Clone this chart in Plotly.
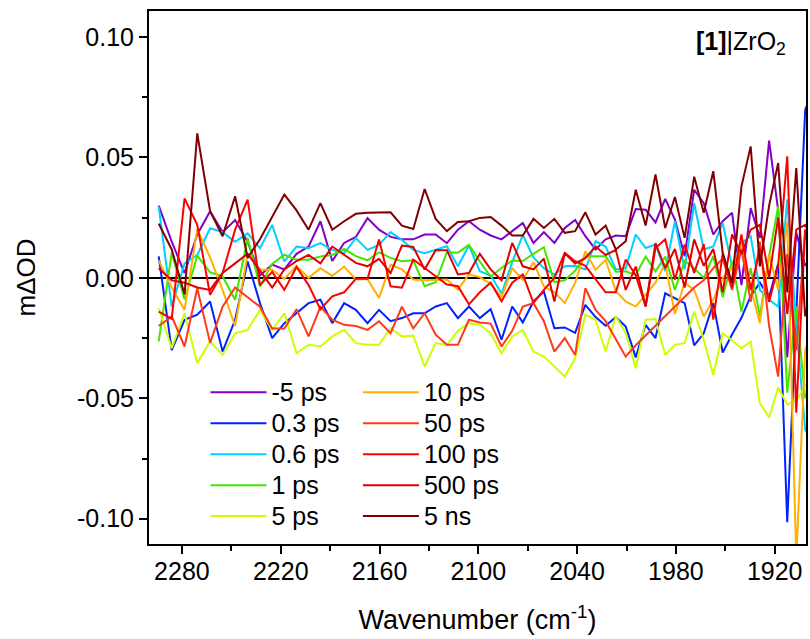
import plotly.graph_objects as go

wavenumber = [2294.1, 2286.2, 2278.4, 2270.7, 2262.9, 2255.3, 2247.7, 2240.1, 2232.6, 2225.2,
              2217.8, 2210.4, 2203.1, 2195.9, 2188.7, 2181.5, 2174.4, 2167.3, 2160.3, 2153.3,
              2146.4, 2139.5, 2132.6, 2125.9, 2119.1, 2112.4, 2105.7, 2099.1, 2092.5, 2085.9,
              2079.4, 2073.0, 2066.5, 2060.2, 2053.8, 2047.5, 2041.2, 2035.0, 2028.8, 2022.7,
              2016.5, 2010.5, 2004.4, 1998.4, 1992.4, 1986.5, 1980.6, 1974.7, 1968.9, 1963.1,
              1957.3, 1951.6, 1945.9, 1940.2, 1934.6, 1929.0, 1923.4, 1917.9, 1912.4, 1906.9,
              1901.5, 1896.1]

m5ps = [0.030, 0.015, 0.002, 0.018, 0.0277, 0.019, 0.024, 0.015, 0.001, 0.0055,
        0.0035, 0.010, 0.013, 0.0235, 0.007, 0.0145, 0.017, 0.0248, 0.020, 0.017,
        0.016, 0.016, 0.018, 0.018, 0.0144, 0.020, 0.0235, 0.020, 0.0176, 0.016,
        0.0194, 0.0228, 0.0145, 0.019, 0.0145, 0.0207, 0.024, 0.0173, 0.0118, 0.016,
        0.0176, 0.0173, 0.0286, 0.0283, 0.023, 0.0328, 0.0242, 0.009, 0.0366, 0.031,
        0.018, 0.0235, 0.027, -0.003, 0.029, 0.0166, 0.057, 0.028, -0.033, 0.0187,
        0.005, 0.010]

p03ps = [0.0089, -0.030, -0.0174, -0.0153, -0.0098, -0.0306, -0.0174, 0.0068, -0.0105, -0.025,
         -0.0188, -0.0147, -0.0105, -0.0091, -0.0188, -0.0105, -0.0133, -0.0188, -0.0133, -0.018,
         -0.0167, -0.0147, -0.0147, -0.0119, -0.0105, -0.0167, -0.0119, -0.0167, -0.013, -0.0257,
         -0.0119, -0.0185, -0.0098, -0.0057, -0.0209, -0.0206, -0.0228, -0.0112, -0.0163, -0.0199,
         -0.0163, -0.0202, -0.033, -0.0195, -0.025, -0.0064, -0.0084, -0.0105, -0.028, -0.023,
         -0.0105, -0.031, -0.0235, -0.0166, -0.0076, -0.002, -0.008, 0.006, -0.1015, -0.015,
         0.0697, 0.080]

p06ps = [0.0296, -0.0119, 0.006, 0.0095, 0.0206, 0.019, 0.015, 0.0185, 0.0123, 0.022,
         0.0068, 0.013, 0.0123, 0.0144, 0.0116, 0.0102, 0.0165, 0.0116, 0.0137, 0.019,
         0.0158, 0.0116, 0.0102, 0.0116, 0.0131, 0.0048, 0.0134, 0.0028, 0.001, -0.0065,
         0.0065, 0.0178, 0.0085, 0.004, 0.0014, 0.0048, 0.005, 0.0035, 0.0152, 0.013,
         0.0035, 0.004, 0.018, 0.0124, 0.0138, 0.0028, 0.0235, 0.0035, 0.031, 0.0118,
         0.013, 0.0228, 0.0048, 0.0145, 0.0173, -0.005, -0.009, -0.012, 0.0325, -0.020,
         -0.063, -0.070]

p1ps = [-0.0264, 0.0105, -0.009, 0.0092, 0.0023, 0.0006, -0.0091, 0.0165, -0.0036, 0.0058,
        0.0096, 0.0075, 0.0075, 0.0089, 0.0095, 0.012, 0.009, 0.0073, 0.0106, 0.0083,
        0.0069, 0.0073, -0.0035, -0.0018, 0.0106, 0.0104, 0.0138, 0.0068, 0.0005, 0.0041,
        0.0072, 0.007, 0.010, 0.0127, -0.0018, -0.001, 0.003, 0.009, 0.009, 0.009,
        0.0025, 0.0027, 0.0013, 0.0088, 0.0027, 0.0088, -0.005, 0.007, 0.004, 0.000,
        0.009, -0.008, 0.007, -0.014, 0.004, -0.016, 0.009, 0.0297, -0.0477, -0.0118,
        -0.050, -0.040]

p5ps = [-0.0126, -0.0292, -0.0147, -0.0354, -0.0264, -0.032, -0.023, -0.0216, -0.0133, -0.0216,
        -0.0147, -0.0313, -0.0278, -0.0285, -0.0243, -0.0216, -0.0271, -0.0278, -0.0278, -0.0209,
        -0.0243, -0.024, -0.0368, -0.0271, -0.0278, -0.022, -0.0188, -0.0195, -0.023, -0.0313,
        -0.0243, -0.0216, -0.0306, -0.0327, -0.0368, -0.041, -0.0334, -0.0153, -0.0174, -0.0306,
        -0.016, -0.023, -0.0375, -0.0174, -0.0171, -0.032, -0.0278, -0.0271, -0.014, -0.0257,
        -0.0403, -0.023, -0.026, -0.0292, -0.0264, -0.052, -0.058, -0.0455, -0.0526, -0.051,
        -0.045, -0.040]

p10ps = [0.0072, -0.004, -0.0133, 0.0203, 0.0085, -0.005, -0.020, 0.010, 0.0034, 0.0034,
         -0.0004, 0.005, 0.0, 0.004, 0.0008, 0.0047, -0.0006, -0.0006, -0.0083, 0.0055,
         0.0035, -0.0007, -0.001, -0.0007, -0.0007, -0.0048, 0.0014, 0.0003, -0.0025, -0.008,
         0.004, -0.0008, 0.0065, -0.0035, -0.006, -0.0105, -0.002, 0.011, 0.0033, 0.0075,
         -0.0055, -0.0098, -0.0119, -0.007, -0.002, 0.006, -0.015, -0.002, -0.005, -0.016,
         -0.009, 0.000, 0.004, 0.0137, -0.004, -0.0188, 0.010, -0.005, 0.0235, -0.117,
         -0.030, -0.020]

p50ps = [-0.020, -0.016, -0.0285, -0.0043, -0.027, -0.012, -0.004, -0.008, -0.012, -0.021,
         -0.021, -0.013, -0.0243, -0.012, -0.0174, -0.0195, -0.020, -0.0216, -0.018, -0.023,
         -0.012, -0.021, -0.0147, -0.0236, -0.0278, -0.0278, -0.0174, -0.0185, -0.019, -0.0285,
         -0.022, -0.0119, -0.0105, -0.018, -0.0306, -0.025, -0.032, -0.0043, -0.0133, -0.018,
         -0.0257, -0.0327, -0.028, -0.024, -0.020, -0.016, -0.012, -0.008, -0.004, -0.001,
         0.004, 0.008, -0.005, 0.012, -0.010, 0.015, -0.020, -0.041, 0.010, -0.030,
         0.020, 0.010]

p100ps = [-0.014, -0.017, 0.033, 0.022, -0.007, 0.002, 0.020, 0.0325, -0.003, 0.0025,
          -0.005, 0.0045, -0.003, -0.013, -0.0077, -0.006, -0.0004, -0.0004, 0.0159, -0.0035,
          -0.0041, 0.0076, 0.0041, 0.0007, -0.0028, -0.0035, -0.011, -0.006, -0.002, -0.0097,
          -0.002, 0.0014, -0.0104, -0.005, 0.0, 0.0104, 0.0069, 0.005, -0.0007, -0.006,
          -0.006, 0.0076, 0.001, -0.0118, 0.0124, 0.016, -0.0007, 0.0138, 0.002, 0.014,
          -0.0173, 0.010, -0.004, 0.018, -0.005, 0.012, -0.010, 0.005, 0.0505, -0.056,
          0.020, 0.000]

p500ps = [0.004, -0.001, -0.002, -0.004, -0.005, 0.002, 0.006, 0.010, 0.003, -0.004,
          0.0035, 0.007, 0.0095, 0.006, 0.013, 0.0095, 0.0062, 0.0048, 0.0079, 0.002,
          0.0134, 0.0128, 0.0035, 0.0115, 0.0115, 0.0014, 0.002, 0.010, 0.0035, -0.001,
          0.0145, 0.0048, 0.0035, 0.008, -0.0098, 0.0102, 0.006, 0.0082, 0.013, 0.0095,
          0.0116, -0.005, 0.0047, -0.0119, 0.0144, 0.004, 0.012, -0.004, 0.016, 0.005,
          0.012, -0.006, 0.018, 0.010, 0.020, 0.022, 0.000, 0.025, -0.015, 0.020,
          0.022, 0.015]

p5ns = [0.0225, 0.0118, -0.0069, 0.060, 0.0277, 0.0173, 0.0339, 0.0083, 0.016, 0.025,
        0.0346, 0.028, 0.020, 0.031, 0.020, 0.0235, 0.0266, 0.027, 0.027, 0.0272,
        0.0217, 0.0203, 0.0369, 0.0245, 0.0194, 0.0232, 0.0235, 0.0249, 0.0253, 0.0217,
        0.0176, 0.0176, 0.0245, 0.0207, 0.0245, 0.0187, 0.0194, 0.0272, 0.018, 0.0217,
        0.0118, 0.0152, 0.0366, 0.0217, 0.0429, 0.0207, 0.0336, 0.0166, 0.042, 0.027,
        0.0443, 0.0104, -0.002, 0.038, 0.0546, 0.0048, 0.030, 0.0477, -0.006, 0.0456,
        -0.016, 0.000]

labels = ["-5 ps", "0.3 ps", "0.6 ps", "1 ps", "5 ps", "10 ps", "50 ps", "100 ps", "500 ps", "5 ns"]
series = [m5ps, p03ps, p06ps, p1ps, p5ps, p10ps, p50ps, p100ps, p500ps, p5ns]
colors = ["#8200C8", "#0022FF", "#00D0FF", "#44E600", "#CCFF00", "#FFB000",
          "#FF3A1A", "#FF0000", "#E00000", "#800000"]

FONT = "Liberation Sans, Arial, sans-serif"

fig = go.Figure()
for i, (lab, ys, col) in enumerate(zip(labels, series, colors)):
    fig.add_trace(go.Scatter(
        x=wavenumber, y=ys, mode="lines",
        name='<span style="font-size:25px">' + lab + '</span>',
        line=dict(color=col, width=2),
        legend="legend" if i < 5 else "legend2",
    ))

leg_common = dict(font=dict(family=FONT, size=21.5, color="black"), bgcolor="rgba(0,0,0,0)",
                  borderwidth=0, itemwidth=56, tracegroupgap=0, xanchor="left", yanchor="top",
                  itemclick=False)

fig.update_layout(
    width=810, height=639,
    margin=dict(l=149, r=2, t=11, b=95),
    paper_bgcolor="white", plot_bgcolor="white",
    font=dict(family=FONT, size=25, color="black"),
    legend=dict(x=0.086, y=0.323, **leg_common),
    legend2=dict(x=0.318, y=0.323, **leg_common),
    xaxis=dict(
        range=[2300, 1901], autorange=False,
        tickmode="array", tickvals=[2280, 2220, 2160, 2100, 2040, 1980, 1920],
        ticks="outside", ticklen=8, tickwidth=2, tickcolor="black",
        minor=dict(tickvals=[2250, 2190, 2130, 2070, 2010, 1950], ticks="outside",
                   ticklen=5, tickwidth=2, tickcolor="black"),
        showline=True, linewidth=2, linecolor="black", mirror=True,
        showgrid=False, zeroline=False, ticklabelstandoff=-4,
        tickfont=dict(family=FONT, size=25),
        title=dict(text="Wavenumber (cm<sup>-1</sup>)", font=dict(family=FONT, size=27), standoff=26),
    ),
    yaxis=dict(
        range=[-0.1105, 0.1108], autorange=False,
        tickmode="array", tickvals=[-0.10, -0.05, 0.0, 0.05, 0.10],
        ticktext=["-0.10", "-0.05", "0.00", "0.05", "0.10"],
        ticks="outside", ticklen=8, tickwidth=2, tickcolor="black",
        minor=dict(tickvals=[-0.075, -0.025, 0.025, 0.075], ticks="outside",
                   ticklen=5, tickwidth=2, tickcolor="black"),
        showline=True, linewidth=2, linecolor="black", mirror=True,
        showgrid=False, zeroline=True, zerolinecolor="black", zerolinewidth=2,
        tickfont=dict(family=FONT, size=25),
        title=dict(text="mΔOD", font=dict(family=FONT, size=26), standoff=34),
    ),
    annotations=[dict(
        text="<b>[1]</b>|ZrO<sub>2</sub>", xref="paper", yref="paper",
        x=0.972, y=0.974, xanchor="right", yanchor="top", showarrow=False,
        font=dict(family=FONT, size=25, color="black"),
    )],
)

fig.write_html("out.html")
